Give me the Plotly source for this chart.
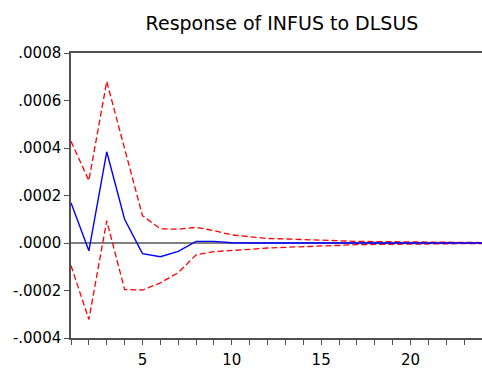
import plotly.graph_objects as go

periods = list(range(1, 25))
response = [0.000170, -0.000033, 0.000384, 0.000100, -0.000045, -0.000058, -0.000035, 0.000007,
            0.000007, 0.000001, 0.000000, 0.000000, 0.000000, 0.000000, 0.000000, 0.000000,
            0.000000, 0.000000, 0.000000, 0.000000, 0.000000, 0.000000, 0.000000, 0.000000]
upper = [0.000428, 0.000263, 0.000680, 0.000400, 0.000115, 0.000060, 0.000058, 0.000066,
         0.000052, 0.000034, 0.000025, 0.000019, 0.000017, 0.000014, 0.000011, 0.000009,
         0.000007, 0.000006, 0.000005, 0.000004, 0.000003, 0.000003, 0.000002, 0.000002]
lower = [-0.000095, -0.000322, 0.000094, -0.000196, -0.000198, -0.000168, -0.000125, -0.000050,
         -0.000036, -0.000033, -0.000027, -0.000021, -0.000018, -0.000014, -0.000011, -0.000009,
         -0.000007, -0.000006, -0.000005, -0.000004, -0.000003, -0.000003, -0.000002, -0.000002]

y_tickvals = [-0.0004, -0.0002, 0.0, 0.0002, 0.0004, 0.0006, 0.0008]
y_ticktext = ["-.0004", "-.0002", ".0000", ".0002", ".0004", ".0006", ".0008"]
x_tickvals = [5, 10, 15, 20]
title_text = "Response of INFUS to DLSUS"

font_family = "DejaVu Sans"

fig = go.Figure()
fig.add_trace(go.Scatter(x=periods, y=upper, mode="lines",
                         line=dict(color="#ff0000", width=1.3, dash="6px,3px")))
fig.add_trace(go.Scatter(x=periods, y=lower, mode="lines",
                         line=dict(color="#ff0000", width=1.3, dash="6px,3px")))
fig.add_trace(go.Scatter(x=periods, y=response, mode="lines",
                         line=dict(color="#0000ff", width=1.4)))

fig.update_layout(
    width=482, height=369,
    margin=dict(l=71, r=0, t=53, b=23),
    paper_bgcolor="white", plot_bgcolor="white",
    showlegend=False,
    font=dict(family=font_family, size=15, color="black"),
    title=dict(text=title_text, xref="container", yref="container",
               x=282/482, y=1-23/369, xanchor="center", yanchor="middle",
               font=dict(family=font_family, size=19, color="black")),
)
fig.update_xaxes(
    range=[1, 24], showgrid=False, zeroline=False,
    showline=True, linecolor="#505050", linewidth=1.5, mirror=True,
    tickmode="array", tickvals=x_tickvals, ticks="outside", ticklen=5,
    tickcolor="#505050", tickwidth=1, ticklabelstandoff=2,
    minor=dict(dtick=1, tick0=1, ticks="outside", ticklen=5, tickcolor="#505050", tickwidth=1, showgrid=False),
    tickfont=dict(family=font_family, size=15),
)
fig.update_yaxes(
    range=[-0.0004, 0.0008], showgrid=False,
    zeroline=True, zerolinecolor="#808080", zerolinewidth=1.5,
    showline=True, linecolor="#505050", linewidth=1.5,
    tickmode="array", tickvals=y_tickvals, ticktext=y_ticktext,
    ticks="outside", ticklen=5, tickcolor="#505050", tickwidth=1,
    tickfont=dict(family=font_family, size=15),
)

fig.write_html("out.html")
